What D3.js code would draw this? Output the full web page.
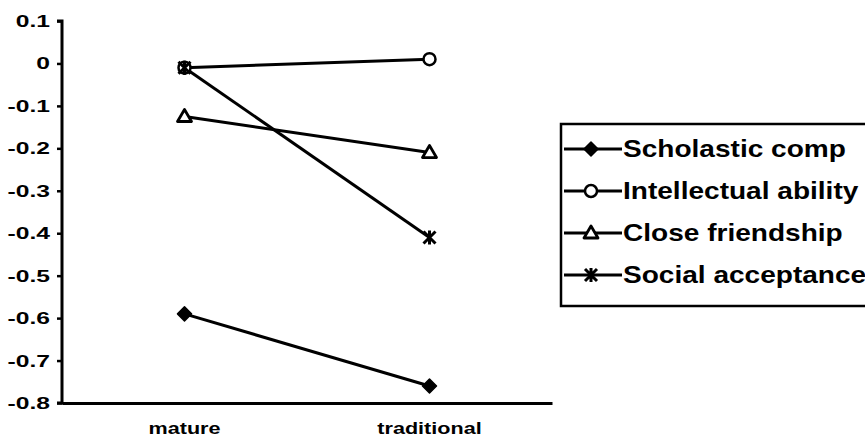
<!DOCTYPE html>
<html><head><meta charset="utf-8">
<script src="https://cdn.jsdelivr.net/npm/d3@7"></script>
<style>body{margin:0;background:#fff;}svg{display:block;font-family:"Liberation Sans",Arial,sans-serif;}</style>
</head><body>
<svg id="c" width="865" height="444"></svg>
<script>
const categories = ["mature", "traditional"];
const seriesNames = ["Scholastic comp", "Intellectual ability", "Close friendship", "Social acceptance"];
const scholastic = [-0.59, -0.76];
const intellectual = [-0.01, 0.01];
const friendship = [-0.125, -0.21];
const social = [-0.01, -0.41];
const yTicks = [0.1, 0, -0.1, -0.2, -0.3, -0.4, -0.5, -0.6, -0.7, -0.8];
const markers = ["diamond", "circle", "triangle", "star"];

const series = [scholastic, intellectual, friendship, social].map((v, i) => ({name: seriesNames[i], values: v, marker: markers[i]}));

const svg = d3.select("#c");
const pL = 62, pR = 552, pT = 21, pB = 403;
const x = d3.scaleBand().domain(categories).range([pL, pR]);
const y = d3.scaleLinear().domain([-0.8, 0.1]).range([pB, pT]);
const fmt = d => d === 0 ? "0" : d3.format(".1f")(d).replace("\u2212", "-");

const ySx = 1.45;
const yAxis = svg.append("g").attr("transform", `translate(${pL},0)`)
  .call(d3.axisLeft(y).tickValues(yTicks).tickFormat(fmt).tickSize(5).tickPadding(7));
yAxis.select(".domain").attr("stroke", "#000").attr("stroke-width", 3).attr("d", `M-5,${pT}H0V${pB}H-5`);
yAxis.selectAll(".tick line").attr("stroke-width", 2.5);
yAxis.selectAll("text").attr("font-size", 17).attr("font-weight", "bold").attr("fill", "#000")
  .attr("font-family", "Liberation Sans, Arial, sans-serif")
  .attr("x", -12 / ySx).attr("transform", `scale(${ySx},1)`);

const xSx = 1.35;
const xAxis = svg.append("g").attr("transform", `translate(0,${pB})`)
  .call(d3.axisBottom(x).tickSize(0).tickPadding(20));
xAxis.select(".domain").attr("stroke", "#000").attr("stroke-width", 3);
xAxis.selectAll("text").attr("font-size", 16).attr("font-weight", "bold").attr("fill", "#000")
  .attr("font-family", "Liberation Sans, Arial, sans-serif").attr("transform", `scale(${xSx},1)`);

function drawMarker(g, type, cx, cy) {
  if (type === "diamond") {
    g.append("path").attr("d", `M${cx},${cy-7}L${cx+7},${cy}L${cx},${cy+7}L${cx-7},${cy}Z`).attr("fill", "#000").attr("stroke", "#000").attr("stroke-width", 1.5).attr("stroke-linejoin", "round");
  } else if (type === "circle") {
    g.append("circle").attr("cx", cx).attr("cy", cy).attr("r", 6).attr("fill", "#fff").attr("stroke", "#000").attr("stroke-width", 2.5);
  } else if (type === "triangle") {
    g.append("path").attr("d", `M${cx},${cy-7}L${cx+7},${cy+5}L${cx-7},${cy+5}Z`).attr("fill", "#fff").attr("stroke", "#000").attr("stroke-width", 2.8).attr("stroke-linejoin", "round");
  } else if (type === "star") {
    g.append("path").attr("d", `M${cx-6},${cy-6}L${cx+6},${cy+6}M${cx+6},${cy-6}L${cx-6},${cy+6}M${cx},${cy-7}L${cx},${cy+7}`).attr("stroke", "#000").attr("stroke-width", 3);
  }
}

const line = d3.line().x((d, i) => x(categories[i]) + x.bandwidth() / 2).y(d => y(d));
const plot = svg.append("g");
series.forEach(s => {
  plot.append("path").attr("d", line(s.values)).attr("fill", "none").attr("stroke", "#000").attr("stroke-width", 3);
});
series.forEach(s => {
  s.values.forEach((v, i) => drawMarker(plot, s.marker, x(categories[i]) + x.bandwidth() / 2, y(v)));
});

// legend
const lg = svg.append("g");
const lx = 561, ly = 124, lh = 182;
lg.append("rect").attr("x", lx).attr("y", ly).attr("width", 330).attr("height", lh).attr("fill", "#fff").attr("stroke", "#000").attr("stroke-width", 2.5);
const lSx = 1.22;
series.forEach((s, i) => {
  const yy = ly + 25 + i * 42;
  lg.append("line").attr("x1", lx + 3).attr("x2", lx + 61).attr("y1", yy).attr("y2", yy).attr("stroke", "#000").attr("stroke-width", 3);
  drawMarker(lg, s.marker, lx + 30, yy);
  lg.append("text").attr("transform", `translate(${lx + 62},${yy}) scale(${lSx},1)`)
    .attr("dy", "0.36em").attr("font-size", 23).attr("font-weight", "bold").text(s.name);
});
</script>
</body></html>
